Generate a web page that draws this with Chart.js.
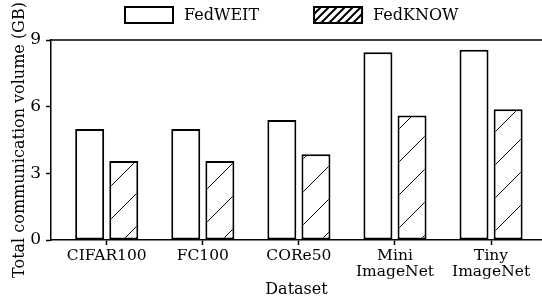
<!DOCTYPE html>
<html lang="en">
<head>
    <meta charset="UTF-8" />
    <title>Total communication volume</title>
    <script src="https://cdn.jsdelivr.net/npm/chart.js"></script>
    <style>
      body { margin: 0; background: #fff; }
      canvas { display: block; }
    </style>
</head>
<body>
    <canvas id="chart" width="542" height="299"></canvas>

    <script>
      // values (GB)
      const datasets = ['CIFAR100', 'FC100', 'CORe50', ['Mini', 'ImageNet'], ['Tiny', 'ImageNet']];
      const seriesNames = ['FedWEIT', 'FedKNOW'];
      const fedweit = [5.0, 5.0, 5.4, 8.45, 8.56];
      const fedknow = [3.55, 3.55, 3.86, 5.6, 5.88];
      const yTicks = [0, 3, 6, 9];

      const serif = "'DejaVu Serif', serif";

      // diagonal hatch like matplotlib '/'
      function hatch(size, lw) {
        const c = document.createElement('canvas');
        c.width = size; c.height = size;
        const g = c.getContext('2d');
        g.fillStyle = '#fff';
        g.fillRect(0, 0, size, size);
        g.strokeStyle = '#000';
        g.lineWidth = lw;
        g.beginPath();
        g.moveTo(-1, size + 1); g.lineTo(size + 1, -1);
        g.moveTo(-size / 2, size / 2); g.lineTo(size / 2, -size / 2);
        g.moveTo(size / 2, size * 1.5); g.lineTo(size * 1.5, size / 2);
        g.stroke();
        return g.createPattern(c, 'repeat');
      }
      const barHatch = hatch(33, 1);
      const legendHatch = hatch(8, 2);

      // legend drawn as boxes on top, like the figure
      const boxLegend = {
        id: 'boxLegend',
        afterDraw(chart) {
          const ctx = chart.ctx;
          const fills = ['#fff', legendHatch];
          let x = 125;
          ctx.save();
          ctx.font = '16px ' + serif;
          ctx.textBaseline = 'middle';
          chart.data.datasets.forEach((ds, i) => {
            ctx.fillStyle = fills[i];
            ctx.fillRect(x, 7, 48, 16);
            ctx.strokeStyle = '#000';
            ctx.lineWidth = 2;
            ctx.strokeRect(x, 7, 48, 16);
            ctx.fillStyle = '#000';
            ctx.fillText(ds.label, x + 59, 15.5);
            x += 59 + ctx.measureText(ds.label).width + 55;
          });
          ctx.restore();
        }
      };

      // top frame line
      const topLine = {
        id: 'topLine',
        afterDatasetsDraw(chart) {
          const {ctx, chartArea} = chart;
          ctx.save();
          ctx.strokeStyle = '#000';
          ctx.lineWidth = 1.5;
          ctx.beginPath();
          ctx.moveTo(chartArea.left, chartArea.top);
          ctx.lineTo(chartArea.right, chartArea.top);
          ctx.stroke();
          ctx.restore();
        }
      };

      const ctx = document.getElementById('chart');
      const myChart = new Chart(ctx, {
        type: 'bar',
        data: {
          datasets: [
            {
              label: seriesNames[0],
              data: fedweit.map((v, i) => ({x: i, y: v})),
              backgroundColor: '#fff',
              borderColor: '#000',
              borderWidth: 2,
              borderSkipped: false
            },
            {
              label: seriesNames[1],
              data: fedknow.map((v, i) => ({x: i, y: v})),
              backgroundColor: barHatch,
              borderColor: '#000',
              borderWidth: 2,
              borderSkipped: false
            }
          ]
        },
        options: {
          responsive: false,
          animation: false,
          devicePixelRatio: 1,
          categoryPercentage: 0.71,
          barPercentage: 0.85,
          layout: { padding: { top: 40, right: 0, left: 0, bottom: 0 } },
          plugins: {
            legend: { display: false },
            tooltip: { enabled: false }
          },
          scales: {
            x: {
              type: 'linear',
              offset: false,
              min: -0.58,
              max: 4.53,
              afterFit: (s) => { s.height = 59; },
              afterBuildTicks: (s) => { s.ticks = datasets.map((d, i) => ({value: i})); },
              grid: { offset: false, drawOnChartArea: false, tickLength: 5, tickColor: '#000', tickWidth: 1.5 },
              border: { color: '#000', width: 1.5 },
              ticks: {
                autoSkip: false,
                maxRotation: 0,
                padding: 3,
                color: '#000',
                font: { family: serif, size: 15.5, lineHeight: 1.05 },
                callback: (v) => datasets[v]
              },
              title: {
                display: true,
                text: 'Dataset',
                color: '#000',
                font: { family: serif, size: 16 },
                padding: { top: 0, bottom: 0 }
              }
            },
            y: {
              min: 0,
              max: 9,
              afterFit: (s) => { s.width = 51; },
              afterBuildTicks: (s) => { s.ticks = yTicks.map(v => ({value: v})); },
              grid: { drawOnChartArea: false, tickLength: 5, tickColor: '#000', tickWidth: 1.5 },
              border: { color: '#000', width: 1.5 },
              ticks: {
                padding: 5,
                color: '#000',
                font: { family: serif, size: 17 }
              },
              title: {
                display: true,
                text: 'Total communication volume (GB)',
                color: '#000',
                font: { family: serif, size: 16 },
                padding: { top: 10, bottom: 0 }
              }
            }
          }
        },
        plugins: [boxLegend, topLine]
      });
    </script>
</body>
</html>
